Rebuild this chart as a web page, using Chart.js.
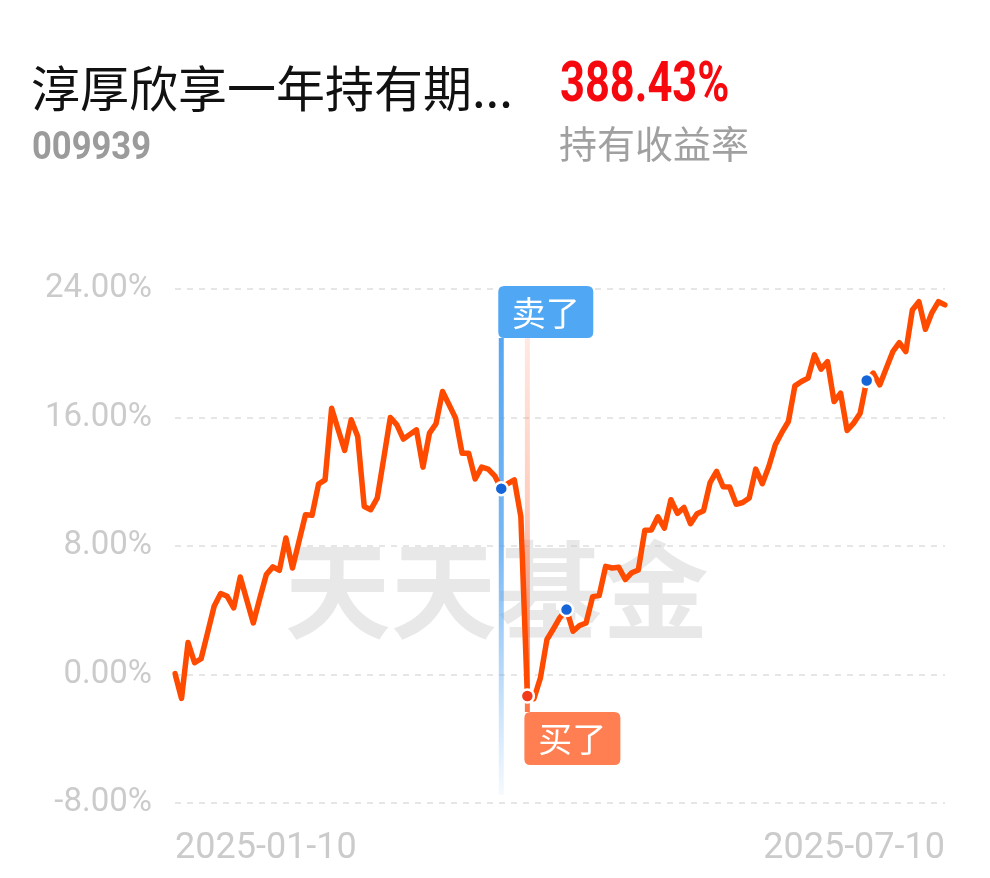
<!DOCTYPE html>
<html><head><meta charset="utf-8">
<script src="https://cdn.jsdelivr.net/npm/chart.js@4/dist/chart.umd.min.js"></script>
<style>
html,body{margin:0;padding:0;background:#fff;width:990px;height:878px;overflow:hidden;}
#wrap{position:relative;width:990px;height:878px;}
#c{position:absolute;left:0;top:0;}
.t{position:absolute;white-space:nowrap;line-height:1;}
#name{left:31px;top:50px;font:49px "Noto Sans CJK SC";color:#111;}
#rate{left:560px;top:50px;font:bold 55px Roboto;color:#f5090f;transform:scaleX(0.79);transform-origin:left top;}
#code{left:32px;top:124px;font:bold 38px Roboto;color:#9b9b9b;transform:scaleX(0.91);transform-origin:left top;}
#lbl{left:559px;top:114px;font:38px "Noto Sans CJK SC";color:#a0a0a0;}
</style></head>
<body><div id="wrap">
<canvas id="c" width="990" height="878"></canvas>
<div class="t" id="name">淳厚欣享一年持有期...</div>
<div class="t" id="rate">388.43%</div>
<div class="t" id="code">009939</div>
<div class="t" id="lbl">持有收益率</div>
</div>
<script>
const dates = [
'2025-01-10','2025-01-13','2025-01-14','2025-01-15','2025-01-16','2025-01-17','2025-01-20','2025-01-21','2025-01-22','2025-01-23','2025-01-24','2025-01-27',
'2025-02-05','2025-02-06','2025-02-07','2025-02-10','2025-02-11','2025-02-12','2025-02-13','2025-02-14','2025-02-17','2025-02-18','2025-02-19','2025-02-20','2025-02-21','2025-02-24','2025-02-25','2025-02-26','2025-02-27','2025-02-28',
'2025-03-03','2025-03-04','2025-03-05','2025-03-06','2025-03-07','2025-03-10','2025-03-11','2025-03-12','2025-03-13','2025-03-14','2025-03-17','2025-03-18','2025-03-19','2025-03-20','2025-03-21','2025-03-24','2025-03-25','2025-03-26','2025-03-27','2025-03-28','2025-03-31',
'2025-04-01','2025-04-02','2025-04-03','2025-04-07','2025-04-08','2025-04-09','2025-04-10','2025-04-11','2025-04-14','2025-04-15','2025-04-16','2025-04-17','2025-04-18','2025-04-21','2025-04-22','2025-04-23','2025-04-24','2025-04-25','2025-04-28','2025-04-29','2025-04-30',
'2025-05-06','2025-05-07','2025-05-08','2025-05-09','2025-05-12','2025-05-13','2025-05-14','2025-05-15','2025-05-16','2025-05-19','2025-05-20','2025-05-21','2025-05-22','2025-05-23','2025-05-26','2025-05-27','2025-05-28','2025-05-29','2025-05-30',
'2025-06-03','2025-06-04','2025-06-05','2025-06-06','2025-06-09','2025-06-10','2025-06-11','2025-06-12','2025-06-13','2025-06-16','2025-06-17','2025-06-18','2025-06-19','2025-06-20','2025-06-23','2025-06-24','2025-06-25','2025-06-26','2025-06-27','2025-06-30',
'2025-07-01','2025-07-02','2025-07-03','2025-07-04','2025-07-07','2025-07-08','2025-07-09','2025-07-10'
];
const returns = [
0.06,-1.49,1.99,0.73,0.98,2.61,4.25,5.04,4.87,4.15,
6.07,4.64,3.21,4.75,6.22,6.70,6.49,8.50,6.63,8.29,
9.95,9.91,11.86,12.12,16.58,15.25,13.95,15.86,14.82,10.46,
10.26,10.99,13.49,16.00,15.54,14.66,14.95,15.23,12.91,15.03,
15.61,17.62,16.79,15.96,13.78,13.78,12.17,12.91,12.79,12.37,
11.57,11.88,12.12,9.84,-1.34,-1.51,-0.21,2.18,2.85,3.55,
4.04,2.69,3.05,3.21,4.85,4.91,6.73,6.63,6.68,5.91,
6.34,6.51,8.98,9.00,9.82,9.12,10.88,10.03,10.40,9.39,
10.01,10.20,11.94,12.64,11.69,11.67,10.60,10.71,10.99,12.79,
11.88,12.95,14.30,15.07,15.75,17.97,18.24,18.45,19.90,19.01,
19.48,16.99,17.52,15.19,15.65,16.27,18.30,18.76,18.03,19.07,
20.10,20.66,20.10,22.69,23.21,21.49,22.53,23.21,23.01
];
const yTicks = [-8, 0, 8, 16, 24];
const sellDates = ['2025-03-31'];
const buyDates = ['2025-04-07'];
const markDates = ['2025-04-15','2025-06-24'];
const sellText = '卖了';
const buyText = '买了';
const watermark = '天天基金';

const sellIdx = dates.indexOf(sellDates[0]);
const buyIdx = dates.indexOf(buyDates[0]);
const markIdx = markDates.map(d => dates.indexOf(d));

const pr = dates.map((d,i) => (i===sellIdx||i===buyIdx||markIdx.includes(i)) ? 6.5 : 0);
const pc = dates.map((d,i) => i===buyIdx ? '#f23a1c' : '#1565d8');

function rr(ctx,x,y,w,h,r){ctx.beginPath();ctx.moveTo(x+r,y);ctx.lineTo(x+w-r,y);ctx.quadraticCurveTo(x+w,y,x+w,y+r);ctx.lineTo(x+w,y+h-r);ctx.quadraticCurveTo(x+w,y+h,x+w-r,y+h);ctx.lineTo(x+r,y+h);ctx.quadraticCurveTo(x,y+h,x,y+h-r);ctx.lineTo(x,y+r);ctx.quadraticCurveTo(x,y,x+r,y);ctx.closePath();}

const overlay = {
  id:'overlay',
  beforeDatasetsDraw(chart){
    const {ctx, chartArea:a, scales:{x,y}} = chart;
    ctx.save();
    ctx.font = 'bold 106px "Noto Sans CJK SC"';
    ctx.fillStyle = 'rgba(200,200,200,0.42)';
    ctx.textAlign='center'; ctx.textBaseline='middle';
    ctx.fillText(watermark, a.left + a.width*0.418, a.top + a.height*0.586);
    const xs = x.getPixelForValue(sellIdx);
    let g = ctx.createLinearGradient(0, a.top+49, 0, a.bottom-8);
    g.addColorStop(0,'rgba(85,166,242,1)');
    g.addColorStop(0.45,'rgba(85,166,242,0.8)');
    g.addColorStop(1,'rgba(85,166,242,0.06)');
    ctx.fillStyle = g;
    ctx.fillRect(xs-2.5, a.top+49, 5, a.bottom-8-(a.top+49));
    const xb = x.getPixelForValue(buyIdx);
    const yb = y.getPixelForValue(returns[buyIdx]);
    g = ctx.createLinearGradient(0, a.top+11, 0, yb+16);
    g.addColorStop(0,'rgba(255,128,90,0.12)');
    g.addColorStop(0.5,'rgba(255,128,90,0.4)');
    g.addColorStop(1,'rgba(255,110,60,0.95)');
    ctx.fillStyle = g;
    ctx.fillRect(xb-2.5, a.top+11, 5, yb+16-(a.top+11));
    ctx.restore();
  },
  afterDatasetsDraw(chart){
    const {ctx, chartArea:a, scales:{x,y}} = chart;
    ctx.save();
    const xs = x.getPixelForValue(sellIdx);
    const xb = x.getPixelForValue(buyIdx);
    const yb = y.getPixelForValue(returns[buyIdx]);
    ctx.font = '34px "Noto Sans CJK SC"';
    ctx.textAlign='center'; ctx.textBaseline='middle';
    ctx.fillStyle = '#50a7f4';
    rr(ctx, xs-3, a.top-3, 95, 52, 6); ctx.fill();
    ctx.fillStyle = '#fff';
    ctx.fillText(sellText, xs-3+47.5, a.top-3+27);
    ctx.fillStyle = '#ff7f52';
    rr(ctx, xb-3, yb+16, 96, 53, 6); ctx.fill();
    ctx.fillStyle = '#fff';
    ctx.fillText(buyText, xb-3+48, yb+16+27);
    ctx.restore();
  }
};

new Chart(document.getElementById('c'), {
  type:'line',
  data:{ labels: dates, datasets:[{
    data: returns,
    borderColor:'#ff4b00',
    borderWidth:5.5,
    tension:0,
    borderJoinStyle:'round',
    borderCapStyle:'round',
    pointRadius: pr,
    pointHoverRadius: pr,
    pointBackgroundColor: pc,
    pointBorderColor:'#ffffff',
    pointBorderWidth:2.5
  }]},
  options:{
    responsive:false,
    animation:false,
    events:[],
    layout:{padding:{top:289,right:45,left:0,bottom:0}},
    plugins:{legend:{display:false},tooltip:{enabled:false}},
    scales:{
      x:{
        grid:{display:false,drawTicks:false},
        border:{display:false},
        afterBuildTicks(ax){ const t = ax.ticks; ax.ticks = [t[0], t[t.length-1]]; },
        ticks:{autoSkip:false,maxRotation:0,align:'inner',padding:24,color:'#cbcbcb',font:{family:'Roboto',size:36}},
        afterFit(ax){ ax.height = 75; }
      },
      y:{
        min:-8,max:24,
        afterBuildTicks(ax){ ax.ticks = yTicks.map(v=>({value:v})); },
        grid:{color:'#e6e6e6',lineWidth:2,drawTicks:false},
        border:{display:false,dash:[6,6]},
        ticks:{padding:23,color:'#cbcbcb',font:{family:'Roboto',size:33},callback:v=>v.toFixed(2)+'%'},
        afterFit(ax){ ax.width = 175; }
      }
    }
  },
  plugins:[overlay]
});
</script>
</body></html>
